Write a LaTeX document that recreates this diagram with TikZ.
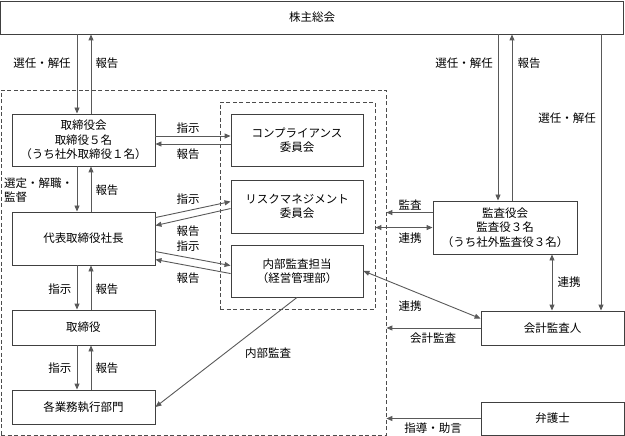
\documentclass[tikz,border=0pt]{standalone}
\usepackage{fontspec}
\setmainfont{Noto Sans CJK JP}
\usetikzlibrary{arrows.meta,calc}
\newcommand\myfs{\fontsize{11.5}{14.5}\selectfont}
\begin{document}
\begin{tikzpicture}[x=1pt,y=-1pt,
  box/.style={draw=black!75, line width=0.9pt, fill=white, align=center, inner sep=0pt, font=\myfs},
  dbox/.style={draw=black!70, dash pattern=on 4pt off 2.5pt, line width=0.8pt, inner sep=0pt},
  arr/.style={draw=black!65, line width=0.9pt, -{Triangle[length=6pt,width=5pt]}},
  darr/.style={draw=black!65, line width=0.9pt, {Triangle[length=6pt,width=5pt]}-{Triangle[length=6pt,width=5pt]}},
  lbl/.style={font=\myfs, inner sep=0pt, align=left}]
\useasboundingbox (0,0) rectangle (625,436);
% dashed groups
\node[dbox, minimum width=385pt, minimum height=345pt] (outer) at (193.5,262.5) {};
\node[dbox, minimum width=155pt, minimum height=207pt] (inner) at (297.5,205.5) {};
% boxes
\node[box, minimum width=623pt, minimum height=33pt] (kabu) at (312,17.5) {株主総会};
\node[box, minimum width=143pt, minimum height=52pt] (tori) at (83.5,140) {取締役会\\取締役５名\\（うち社外取締役１名）};
\node[box, minimum width=132pt, minimum height=52pt] (comp) at (297,140) {コンプライアンス\\委員会};
\node[box, minimum width=132pt, minimum height=53pt] (risk) at (297,206.5) {リスクマネジメント\\委員会};
\node[box, minimum width=132pt, minimum height=52pt] (naibu) at (297,271) {内部監査担当\\（経営管理部）};
\node[box, minimum width=143pt, minimum height=53pt] (shacho) at (83.5,238.5) {代表取締役社長};
\node[box, minimum width=143pt, minimum height=35pt] (tsh) at (83.5,327.5) {取締役};
\node[box, minimum width=143pt, minimum height=34pt] (gyomu) at (83.5,407) {各業務執行部門};
\node[box, minimum width=144pt, minimum height=53pt] (kansa) at (505,227.5) {監査役会\\監査役３名\\（うち社外監査役３名）};
\node[box, minimum width=143pt, minimum height=34pt] (kaikei) at (552.5,328) {会計監査人};
\node[box, minimum width=143pt, minimum height=33pt] (bengo) at (552.5,418.5) {弁護士};
% x / y helper coordinates
\coordinate (c77) at (77,0);
\coordinate (c91) at (91,0);
\coordinate (c498) at (498,0);
\coordinate (c512) at (512,0);
\coordinate (c601) at (601,0);
\coordinate (c552) at (552,0);
\coordinate (y136) at (0,136);
\coordinate (y144) at (0,144);
% left column
\draw[arr] (kabu.south -| c77) -- (tori.north -| c77);
\draw[arr] (tori.north -| c91) -- (kabu.south -| c91);
\draw[arr] (tori.south -| c77) -- (shacho.north -| c77);
\draw[arr] (shacho.north -| c91) -- (tori.south -| c91);
\draw[arr] (shacho.south -| c77) -- (tsh.north -| c77);
\draw[arr] (tsh.north -| c91) -- (shacho.south -| c91);
\draw[arr] (tsh.south -| c77) -- (gyomu.north -| c77);
\draw[arr] (gyomu.north -| c91) -- (tsh.south -| c91);
% to committees
\draw[arr] (tori.east |- y136) -- (comp.west |- y136);
\draw[arr] (comp.west |- y144) -- (tori.east |- y144);
\draw[arr] ($(shacho.north east)+(0,6)$) -- ($(risk.north west)+(0,22)$);
\draw[arr] ($(risk.north west)+(0,29)$) -- ($(shacho.north east)+(0,14)$);
\draw[arr] ($(shacho.north east)+(0,40)$) -- ($(naibu.north west)+(0,21)$);
\draw[arr] ($(naibu.north west)+(0,29)$) -- ($(shacho.north east)+(0,48)$);
\draw[arr] (naibu.south) -- (gyomu.east);
% right side
\draw[arr] (kabu.south -| c498) -- (kansa.north -| c498);
\draw[arr] (kansa.north -| c512) -- (kabu.south -| c512);
\draw[arr] (kabu.south -| c601) -- (kaikei.north -| c601);
\coordinate (ka) at ($(kansa.north west)+(0,12)$);
\draw[arr] (ka) -- (ka -| outer.east);
\coordinate (kb) at ($(kansa.north west)+(0,27)$);
\draw[darr] (kb) -- (kb -| inner.east);
\draw[darr] (kansa.south -| c552) -- (kaikei.north -| c552);
\draw[darr] (naibu.east) -- ($(kaikei.north west)+(0,8)$);
\draw[arr] (kaikei.west) -- (kaikei.west -| outer.east);
\draw[arr] (bengo.west) -- (bengo.west -| outer.east);
% labels
\node[lbl] (l1) at (42,63) {選任・解任};
\node[lbl] (l2) at (107,63) {報告};
\node[lbl] (l3) at (188,128) {指示};
\node[lbl] (l4) at (188,154) {報告};
\node[lbl, anchor=west] (l5) at (4,190) {選定・解職・\\監督};
\node[lbl] (l6) at (107,190) {報告};
\node[lbl] (l7) at (188,199) {指示};
\node[lbl] (l8) at (188,231) {報告};
\node[lbl] (l9) at (188,246) {指示};
\node[lbl] (l10) at (188,278) {報告};
\node[lbl] (l11) at (60,289) {指示};
\node[lbl] (l12) at (107,289) {報告};
\node[lbl] (l13) at (60,368) {指示};
\node[lbl] (l14) at (107,368) {報告};
\node[lbl] (l15) at (268,353) {内部監査};
\node[lbl] (l16) at (464,63) {選任・解任};
\node[lbl] (l17) at (529,63) {報告};
\node[lbl] (l18) at (567,118) {選任・解任};
\node[lbl] (l19) at (410,205) {監査};
\node[lbl] (l20) at (410,238) {連携};
\node[lbl] (l21) at (569,282) {連携};
\node[lbl] (l22) at (410,306) {連携};
\node[lbl] (l23) at (433,338) {会計監査};
\node[lbl] (l24) at (433,428) {指導・助言};
\end{tikzpicture}
\end{document}
